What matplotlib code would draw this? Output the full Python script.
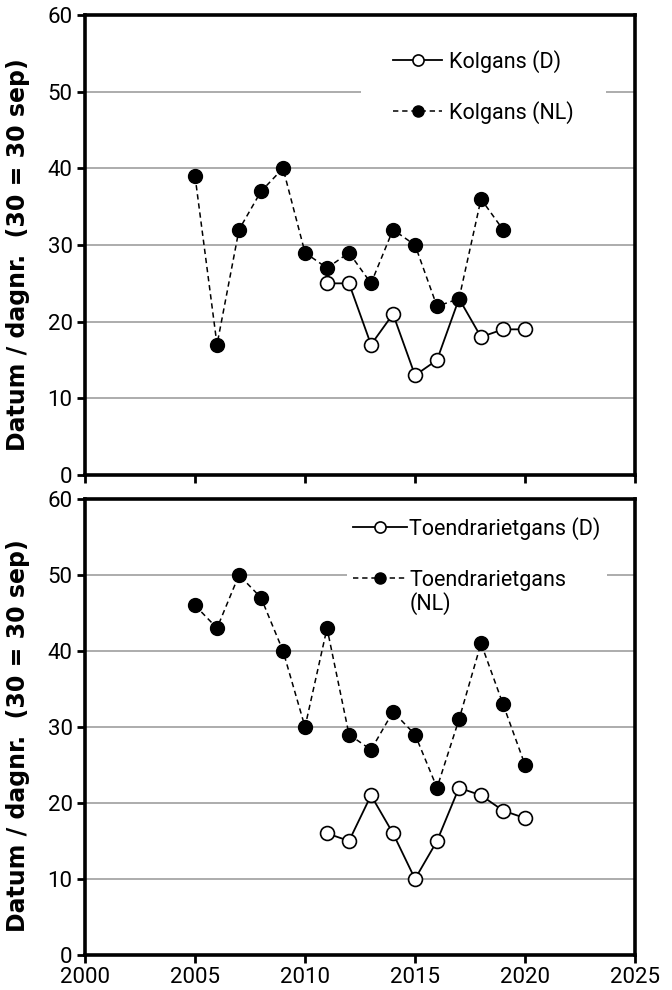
import matplotlib
matplotlib.use('Agg')
import matplotlib.pyplot as plt

plt.rcParams['font.family'] = ['Roboto', 'DejaVu Sans']

# Kolgans
jaren_kol_nl = [2005, 2006, 2007, 2008, 2009, 2010, 2011, 2012, 2013, 2014, 2015, 2016, 2017, 2018, 2019]
kol_nl = [39, 17, 32, 37, 40, 29, 27, 29, 25, 32, 30, 22, 23, 36, 32]
jaren_kol_d = [2011, 2012, 2013, 2014, 2015, 2016, 2017, 2018, 2019, 2020]
kol_d = [25, 25, 17, 21, 13, 15, 23, 18, 19, 19]

# Toendrarietgans
jaren_toe_nl = [2005, 2006, 2007, 2008, 2009, 2010, 2011, 2012, 2013, 2014, 2015, 2016, 2017, 2018, 2019, 2020]
toe_nl = [46, 43, 50, 47, 40, 30, 43, 29, 27, 32, 29, 22, 31, 41, 33, 25]
jaren_toe_d = [2011, 2012, 2013, 2014, 2015, 2016, 2017, 2018, 2019, 2020]
toe_d = [16, 15, 21, 16, 10, 15, 22, 21, 19, 18]

xticks = [2000, 2005, 2010, 2015, 2020, 2025]
yticks = [0, 10, 20, 30, 40, 50, 60]
ylab = 'Datum / dagnr.  (30 = 30 sep)'

fig = plt.figure(figsize=(6.72, 9.9), dpi=100)
ax1 = fig.add_axes([0.1265, 0.5202, 0.8185, 0.4646])
ax2 = fig.add_axes([0.1265, 0.0354, 0.8185, 0.4606])


def opmaak(ax, labels=True):
    ax.set_xlim(2000, 2025)
    ax.set_ylim(0, 60)
    ax.set_xticks(xticks)
    ax.set_yticks(yticks)
    if not labels:
        ax.set_xticklabels([])
    for g in yticks[1:-1]:
        ax.axhline(g, color='#a6a6a6', lw=1.3, zorder=0)
    for s in ax.spines.values():
        s.set_linewidth(2.6)
    ax.tick_params(axis='both', direction='out', length=6, width=2, labelsize=16, pad=3)
    ax.set_ylabel(ylab, fontsize=17, fontweight='bold', family='DejaVu Sans')
    ax.yaxis.set_label_coords(-0.1, 0.48)


stijl_d = dict(color='black', lw=1.3, ms=10, mfc='white', mec='black', mew=1.2, zorder=3)
stijl_nl = dict(color='black', lw=1.1, ms=10, mfc='black', mec='black', dashes=(3.5, 2.5), zorder=3)
leg_opties = dict(loc='upper right', fontsize=15.5, frameon=True, facecolor='white',
                  edgecolor='none', framealpha=1, borderaxespad=0, markerscale=0.8)

ax1.plot(jaren_kol_d, kol_d, '-o', label='Kolgans (D)', **stijl_d)
ax1.plot(jaren_kol_nl, kol_nl, '--o', label='Kolgans (NL)', **stijl_nl)
opmaak(ax1, labels=False)
ax1.legend(bbox_to_anchor=(0.947, 0.994), labelspacing=1.3, handlelength=2.3,
           handletextpad=0.3, borderpad=1.5, **leg_opties)

ax2.plot(jaren_toe_d, toe_d, '-o', label='Toendrarietgans (D)', **stijl_d)
ax2.plot(jaren_toe_nl, toe_nl, '--o', label='Toendrarietgans', **stijl_nl)
opmaak(ax2)
lg2 = ax2.legend(bbox_to_anchor=(0.949, 0.975), labelspacing=1.4, handlelength=2.5,
                 handletextpad=0.1, borderpad=0.3, **leg_opties)
# tweede regel van het legendalabel
fig.canvas.draw()
tekst = lg2.get_texts()[1]
bb = tekst.get_window_extent().transformed(ax2.transAxes.inverted())
ax2.text(bb.x0, bb.y0 - 0.002, '(NL)', fontsize=15.5, ha='left', va='top',
         transform=ax2.transAxes, zorder=6)

fig.savefig('out.png', dpi=100)
